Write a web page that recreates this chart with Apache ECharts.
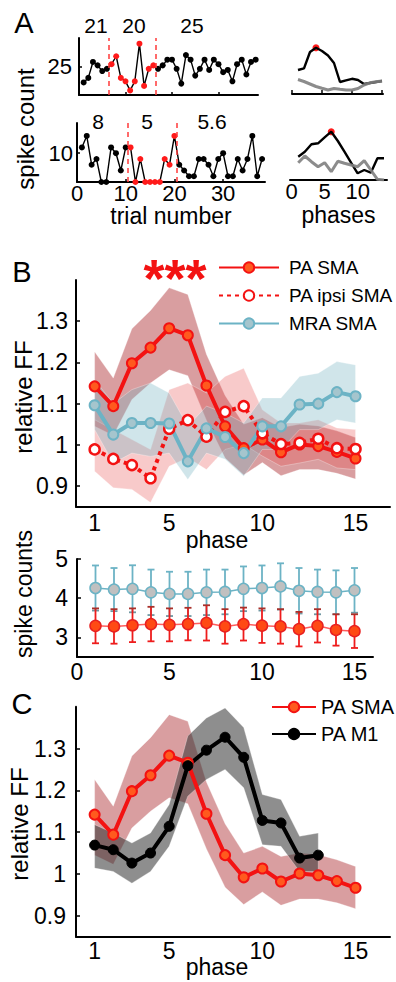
<!DOCTYPE html>
<html>
<head>
<meta charset="utf-8">
<script src="https://cdn.jsdelivr.net/npm/echarts@6.0.0/dist/echarts.min.js"></script>
<style>
  html, body { margin: 0; padding: 0; background: #fff; }
  #chart { width: 396px; height: 982px; }
</style>
</head>
<body>
<div id="chart"></div>
<script>
// ---------- panel A : single trials ----------
const trials = [1,2,3,4,5,6,7,8,9,10,11,12,13,14,15,16,17,18,19,20,21,22,23,24,25,26,27,28,29,30,31,32,33,34,35,36,37,38];
const countTop = [11,15,29,26,21,23,27,34,15,12,4,12,45,8,23,26,23,26,31,31,23,10,35,31,17,23,31,22,31,27,20,22,12,27,31,18,29,31];
const countBottom = [12,16,6,8,0,0,12,10,4,12,12,0,8,0,0,0,0,8,6,16,6,4,2,2,8,8,6,2,8,10,2,2,8,4,8,16,2,8];
const redTop = [7, 16];        // first and last trial of the red block
const redBottom = [11, 20];
const splitTop = [6.5, 16.5];  // dashed separators
const splitBottom = [10.5, 20.5];
const meanTop = ['21', '20', '25'];
const meanBottom = ['8', '5', '5.6'];

// FF per phase for the two example neurons (black = trials, gray = shuffled)
const phasesTop = [1,2,3,4,5,6,7,8,9,10,11,12,13,14,15];
const ffTopBlack = [24,25.7,42,46.3,43,38.5,31,12,13.7,15.2,14,10,11,12,13];
const ffTopGray = [14.5,12.5,10,7.5,5.7,4,5.5,4.7,4,4,5.5,9,11.2,12.2,13];
const phasesBottom = [1,2,3,4,5,6,7,8,9,10,11,12,13,14];
const ffBotBlack = [23.3,28.3,35.7,36.7,42.7,48.3,39,28.3,17.3,6.7,10,7.3,21.7,21.7];
const ffBotGray = [17.3,24,18.3,13.3,17.3,8.3,18.7,16.7,15,13.3,19.3,10,0.7,0];

// ---------- panel B ----------
const phases = [1,2,3,4,5,6,7,8,9,10,11,12,13,14,15];
const smaFF = [1.142,1.094,1.198,1.236,1.283,1.266,1.144,1.045,0.992,1.013,0.982,1.001,0.997,0.983,0.967];
const smaHi = [1.226,1.162,1.282,1.326,1.381,1.365,1.22,1.12,1.05,1.066,1.042,1.05,1.046,1.034,1.018];
const smaLo = [1.045,1.023,1.11,1.15,1.182,1.168,1.06,0.968,0.927,0.957,0.925,0.94,0.94,0.931,0.917];
const ipsiFF = [0.989,0.966,0.951,0.919,1.039,1.06,1.02,1.08,1.094,1.028,1.002,1.005,1.015,0.992,0.99];
const ipsiHi = [1.061,1.037,1.013,0.989,1.134,1.15,1.126,1.166,1.186,1.085,1.053,1.053,1.061,1.041,1.037];
const ipsiLo = [0.936,0.896,0.892,0.86,0.948,0.969,0.94,0.989,1.001,0.973,0.948,0.956,0.965,0.944,0.94];
const mraFF = [1.096,1.025,1.053,1.053,1.052,0.96,1.04,1.019,0.98,1.045,1.045,1.098,1.1,1.128,1.118];
const mraHi = [1.158,1.1,1.134,1.15,1.126,1.045,1.094,1.077,1.053,1.114,1.114,1.166,1.174,1.202,1.194];
const mraLo = [1.037,0.956,0.98,0.972,0.98,0.916,0.98,0.965,0.924,0.989,0.989,1.037,1.037,1.061,1.053];

const mraCount = [4.26,4.22,4.24,4.15,4.11,4.11,4.15,4.16,4.24,4.26,4.3,4.19,4.16,4.15,4.2];
const mraErr = [0.575,0.55,0.6,0.58,0.565,0.565,0.58,0.57,0.57,0.575,0.59,0.58,0.57,0.56,0.57];
const smaCount = [3.295,3.28,3.31,3.34,3.32,3.34,3.37,3.28,3.34,3.3,3.28,3.21,3.295,3.19,3.16];
const smaErr = [0.445,0.44,0.43,0.44,0.42,0.415,0.45,0.44,0.42,0.44,0.44,0.44,0.425,0.4,0.43];

// ---------- panel C ----------
const phasesM1 = [1,2,3,4,5,6,7,8,9,10,11,12,13];
const m1FF = [1.069,1.058,1.026,1.05,1.114,1.259,1.296,1.327,1.279,1.128,1.122,1.038,1.045];
const m1Hi = [1.118,1.098,1.074,1.098,1.166,1.33,1.373,1.397,1.35,1.19,1.178,1.09,1.098];
const m1Lo = [1.014,1.006,0.978,1.006,1.066,1.186,1.226,1.25,1.206,1.07,1.066,1.006,1.006];

const ffTicks = [0.9, 1, 1.1, 1.2, 1.3];

const FONT = 'Liberation Sans, Arial, sans-serif';
const RED = '#f31212';
const BLUE = '#6cb3c5';

const chart = echarts.init(document.getElementById('chart'), null, { renderer: 'svg' });

function xAx(grid, min, max, extra) {
  return Object.assign({
    type: 'value', gridIndex: grid, min: min, max: max,
    splitLine: { show: false },
    axisLine: { show: true, onZero: false, lineStyle: { color: '#000', width: 2 } },
    axisTick: { show: false },
    axisLabel: { show: false }
  }, extra);
}
function yAx(grid, min, max, extra) {
  return Object.assign({
    type: 'value', gridIndex: grid, min: min, max: max,
    splitLine: { show: false },
    axisLine: { show: true, onZero: false, lineStyle: { color: '#000', width: 2 } },
    axisTick: { show: false },
    axisLabel: { show: false }
  }, extra);
}
function lbl(values, margin, size) {
  return { show: true, customValues: values, margin: margin, color: '#000', fontSize: size || 23, fontFamily: FONT,
           formatter: function (v) { return String(+(+v).toFixed(2)); } };
}
function tck(values, len) {
  return { show: true, inside: true, length: len || 4, customValues: values, lineStyle: { color: '#000', width: 1.5 } };
}
const xName = { color: '#000', fontSize: 23, fontFamily: FONT, verticalAlign: 'top' };

function band(xs, lo, hi, fill, ax) {
  return {
    type: 'custom', xAxisIndex: ax, yAxisIndex: ax, silent: true,
    data: xs.map(function (x, i) { return [x, lo[i], hi[i]]; }),
    encode: { x: 0, y: [1, 2] },
    renderItem: function (params, api) {
      if (params.dataIndex !== 0) return null;
      const pts = [];
      for (let i = 0; i < xs.length; i++) pts.push(api.coord([xs[i], hi[i]]));
      for (let i = xs.length - 1; i >= 0; i--) pts.push(api.coord([xs[i], lo[i]]));
      return { type: 'polygon', shape: { points: pts },
               style: { fill: fill, stroke: 'rgba(255,255,255,0.3)', lineWidth: 1 } };
    }
  };
}

function errBars(xs, mean, err, color, topCap, lowCap, ax) {
  return {
    type: 'custom', xAxisIndex: ax, yAxisIndex: ax, silent: true,
    data: xs.map(function (x, i) { return [x, mean[i] - err[i], mean[i] + err[i]]; }),
    encode: { x: 0, y: [1, 2] },
    renderItem: function (params, api) {
      const x = api.value(0);
      const a = api.coord([x, api.value(1)]);
      const b = api.coord([x, api.value(2)]);
      const w = 3.5;
      return { type: 'group', children: [
        { type: 'line', shape: { x1: a[0], y1: a[1], x2: b[0], y2: b[1] }, style: { stroke: color, lineWidth: 1.8 } },
        { type: 'line', shape: { x1: a[0] - w, y1: a[1], x2: a[0] + w, y2: a[1] }, style: { stroke: lowCap, lineWidth: 1.8 } },
        { type: 'line', shape: { x1: b[0] - w, y1: b[1], x2: b[0] + w, y2: b[1] }, style: { stroke: topCap, lineWidth: 1.8 } }
      ] };
    }
  };
}

function trialLine(ys, red, splits, ax) {
  return {
    type: 'line', xAxisIndex: ax, yAxisIndex: ax, silent: true,
    data: trials.map(function (t, i) {
      const isRed = t >= red[0] && t <= red[1];
      return { value: [t, ys[i]], itemStyle: { color: isRed ? '#ff1a1a' : '#000' } };
    }),
    symbol: 'circle', symbolSize: 6,
    lineStyle: { color: '#000', width: 1.4 },
    markLine: {
      silent: true, symbol: ['none', 'none'], label: { show: false },
      lineStyle: { color: '#ff3a3a', type: [5, 4], width: 1.5 },
      data: splits.map(function (s) { return { xAxis: s }; })
    }
  };
}

function peakIndex(arr) {
  let k = 0;
  arr.forEach(function (v, i) { if (v > arr[k]) k = i; });
  return k;
}

const pkTop = peakIndex(ffTopBlack);
const pkBot = peakIndex(ffBotBlack);

function txt(x, y, s, size, extra) {
  return Object.assign({ type: 'text', x: x, y: y,
    style: { text: s, font: size + 'px ' + FONT, fill: '#000', align: 'center', verticalAlign: 'middle' } }, extra || {});
}

const option = {
  animation: false,
  backgroundColor: '#fff',
  textStyle: { fontFamily: FONT },
  grid: [
    { left: 79, top: 38, width: 179, height: 57, outerBoundsMode: 'none' },
    { left: 77, top: 123, width: 188, height: 59, outerBoundsMode: 'none' },
    { left: 292, top: 44, width: 91, height: 50, outerBoundsMode: 'none' },
    { left: 290, top: 130, width: 97, height: 50, outerBoundsMode: 'none' },
    { left: 76, top: 280, width: 314, height: 226.7, outerBoundsMode: 'none' },
    { left: 77, top: 559, width: 296, height: 98, outerBoundsMode: 'none' },
    { left: 76, top: 706.7, width: 314, height: 230, outerBoundsMode: 'none' }
  ],
  xAxis: [
    xAx(0, 0, 38.5, { axisTick: tck([10, 20, 30], 3) }),
    xAx(1, 0, 38.6, { axisTick: tck([10, 20, 30], 3), axisLabel: lbl([0, 10, 20, 30], 0, 22),
      name: 'trial number', nameLocation: 'middle', nameGap: 13, nameTextStyle: xName }),
    xAx(2, 0, 15.17, { axisTick: tck([0, 5, 10, 15], 4) }),
    xAx(3, -0.25, 14.45, { axisLabel: lbl([0, 5, 10], 0, 22),
      name: 'phases', nameLocation: 'middle', nameGap: 23, nameTextStyle: xName }),
    xAx(4, 0, 16.85, { axisLabel: lbl([1, 5, 10, 15], 5) }),
    xAx(5, 0, 16, { axisLabel: lbl([0, 5, 10, 15], 3) }),
    xAx(6, 0, 16.85, { axisLabel: lbl([1, 5, 10, 15], 3) })
  ],
  yAxis: [
    yAx(0, 0, 50, { axisLabel: lbl([25], 7, 22), axisTick: tck([25], 3) }),
    yAx(1, 0, 20.5, { axisLabel: lbl([10], 4, 22), axisTick: tck([10], 3) }),
    yAx(2, 0, 50, { show: false }),
    yAx(3, 0, 50, { show: false }),
    yAx(4, 0.85, 1.4, { axisLabel: lbl(ffTicks, 8), axisTick: tck(ffTicks, 4) }),
    yAx(5, 2.5, 5, { axisLabel: lbl([3, 4, 5], 9), axisTick: tck([3, 4, 5], 4) }),
    yAx(6, 0.85, 1.4, { axisLabel: lbl(ffTicks, 10), axisTick: tck(ffTicks, 4) })
  ],
  legend: [
    {
      orient: 'vertical', left: 213, top: 253, itemWidth: 60, itemHeight: 13, itemGap: 9,
      selectedMode: false, data: ['PA SMA', 'PA ipsi SMA', 'MRA SMA'],
      textStyle: { color: '#000', fontSize: 19, fontFamily: FONT, padding: [0, 0, 0, 5] }
    },
    {
      orient: 'vertical', left: 266, top: 692, itemWidth: 44, itemHeight: 13, itemGap: 7,
      selectedMode: false, data: ['PA SMA', 'PA M1'],
      textStyle: { color: '#000', fontSize: 20, fontFamily: FONT }
    }
  ],
  graphic: [
    txt(24, 23, 'A', 29),
    txt(22, 272, 'B', 29),
    txt(22, 704, 'C', 29),
    txt(96, 25, meanTop[0], 21),
    txt(134, 25, meanTop[1], 21),
    txt(192, 25, meanTop[2], 21),
    txt(98, 121, meanBottom[0], 21),
    txt(147, 121, meanBottom[1], 21),
    txt(212, 121, meanBottom[2], 21),
    txt(25, 129, 'spike count', 24, { rotation: Math.PI / 2 }),
    txt(23, 397, 'relative FF', 24, { rotation: Math.PI / 2 }),
    txt(24, 594, 'spike counts', 23, { rotation: Math.PI / 2 }),
    txt(19, 824, 'relative FF', 24, { rotation: Math.PI / 2 }),
    txt(217, 540, 'phase', 23),
    txt(217, 967, 'phase', 23),
    { type: 'text', x: 175, y: 278, style: { text: '***', font: 'bold 54px ' + FONT, fill: '#f31212', align: 'center', verticalAlign: 'middle' } }
  ],
  series: [
    // A
    trialLine(countTop, redTop, splitTop, 0),
    trialLine(countBottom, redBottom, splitBottom, 1),
    { type: 'line', xAxisIndex: 2, yAxisIndex: 2, silent: true, symbol: 'none',
      data: phasesTop.map(function (p, i) { return [p, ffTopBlack[i]]; }), lineStyle: { color: '#000', width: 2.4 } },
    { type: 'line', xAxisIndex: 2, yAxisIndex: 2, silent: true, symbol: 'none',
      data: phasesTop.map(function (p, i) { return [p, ffTopGray[i]]; }), lineStyle: { color: '#808080', width: 3, opacity: 0.9 } },
    { type: 'scatter', xAxisIndex: 2, yAxisIndex: 2, silent: true, symbolSize: 7,
      data: [[phasesTop[pkTop], ffTopBlack[pkTop]]], itemStyle: { color: '#ff1a1a', opacity: 1 } },
    { type: 'line', xAxisIndex: 3, yAxisIndex: 3, silent: true, symbol: 'none',
      data: phasesBottom.map(function (p, i) { return [p, ffBotBlack[i]]; }), lineStyle: { color: '#000', width: 2.4 } },
    { type: 'line', xAxisIndex: 3, yAxisIndex: 3, silent: true, symbol: 'none',
      data: phasesBottom.map(function (p, i) { return [p, ffBotGray[i]]; }), lineStyle: { color: '#808080', width: 3, opacity: 0.9 } },
    { type: 'scatter', xAxisIndex: 3, yAxisIndex: 3, silent: true, symbolSize: 7,
      data: [[phasesBottom[pkBot], ffBotBlack[pkBot]]], itemStyle: { color: '#ff1a1a', opacity: 1 } },

    // B top
    band(phases, smaLo, smaHi, 'rgba(170,40,45,0.45)', 4),
    band(phases, ipsiLo, ipsiHi, 'rgba(232,80,80,0.3)', 4),
    band(phases, mraLo, mraHi, 'rgba(120,180,196,0.35)', 4),
    { type: 'line', name: 'PA SMA', xAxisIndex: 4, yAxisIndex: 4, silent: true,
      data: phases.map(function (p, i) { return [p, smaFF[i]]; }),
      symbol: 'circle', symbolSize: 10,
      lineStyle: { color: RED, width: 4 },
      itemStyle: { color: '#ff5a1e', borderColor: RED, borderWidth: 2 } },
    { type: 'line', name: 'PA ipsi SMA', xAxisIndex: 4, yAxisIndex: 4, silent: true,
      data: phases.map(function (p, i) { return [p, ipsiFF[i]]; }),
      symbol: 'circle', symbolSize: 10,
      lineStyle: { color: RED, width: 4, type: [4, 4] },
      itemStyle: { color: '#fff', borderColor: RED, borderWidth: 2.5 } },
    { type: 'line', name: 'MRA SMA', xAxisIndex: 4, yAxisIndex: 4, silent: true,
      data: phases.map(function (p, i) { return [p, mraFF[i]]; }),
      symbol: 'circle', symbolSize: 10,
      lineStyle: { color: BLUE, width: 4 },
      itemStyle: { color: '#a5c5cd', borderColor: BLUE, borderWidth: 2 } },

    // B bottom
    errBars(phases, mraCount, mraErr, BLUE, BLUE, '#6f97a2', 5),
    { type: 'line', xAxisIndex: 5, yAxisIndex: 5, silent: true,
      data: phases.map(function (p, i) { return [p, mraCount[i]]; }),
      symbol: 'circle', symbolSize: 11,
      lineStyle: { color: BLUE, width: 1.5 },
      itemStyle: { color: '#c0c0c0', borderColor: BLUE, borderWidth: 1.5 } },
    errBars(phases, smaCount, smaErr, '#ee1c1c', '#a8302a', '#ee1c1c', 5),
    { type: 'line', xAxisIndex: 5, yAxisIndex: 5, silent: true,
      data: phases.map(function (p, i) { return [p, smaCount[i]]; }),
      symbol: 'circle', symbolSize: 11,
      lineStyle: { color: '#ff5c5c', width: 1.5 },
      itemStyle: { color: '#ff4a14', borderColor: '#e82020', borderWidth: 1.5 } },

    // C
    band(phases, smaLo, smaHi, 'rgba(170,40,45,0.45)', 6),
    band(phasesM1, m1Lo, m1Hi, 'rgba(50,50,50,0.55)', 6),
    { type: 'line', name: 'PA SMA', xAxisIndex: 6, yAxisIndex: 6, silent: true,
      data: phases.map(function (p, i) { return [p, smaFF[i]]; }),
      symbol: 'circle', symbolSize: 10,
      lineStyle: { color: RED, width: 4 },
      itemStyle: { color: '#ff5a1e', borderColor: RED, borderWidth: 2 } },
    { type: 'line', name: 'PA M1', xAxisIndex: 6, yAxisIndex: 6, silent: true,
      data: phasesM1.map(function (p, i) { return [p, m1FF[i]]; }),
      symbol: 'circle', symbolSize: 10,
      lineStyle: { color: '#000', width: 4 },
      itemStyle: { color: '#000', borderColor: '#000', borderWidth: 1 } }
  ]
};

chart.setOption(option);
</script>
</body>
</html>
